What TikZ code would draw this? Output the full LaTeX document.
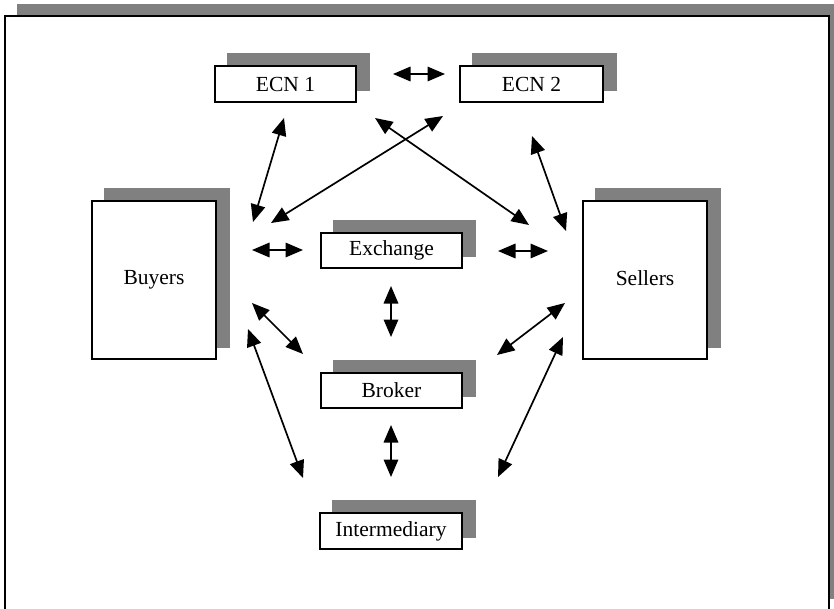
\documentclass[tikz,border=0pt]{standalone}
\usepackage{fontspec}
\setmainfont{Liberation Serif}
\usetikzlibrary{arrows.meta,backgrounds}
\definecolor{shadowgray}{RGB}{128,128,128}
\begin{document}
\begin{tikzpicture}[x=1pt,y=-1pt,
  box/.style={draw, line width=1.9pt, fill=white, inner sep=0pt,
              font=\fontsize{21.5}{26}\selectfont},
  link/.style={{Triangle[length=17.5pt,width=14.5pt]}-{Triangle[length=17.5pt,width=14.5pt]}, line width=1.7pt}]
\useasboundingbox (0,0) rectangle (834,608);
\begin{scope}[on background layer]
  \clip (0,0) rectangle (834,608);
  \fill[shadowgray] (17,4) rectangle (846,599);
  \draw[line width=2pt, fill=white] (5,16) rectangle (829,620);
\end{scope}

\node[box, minimum width=141pt, minimum height=36pt] (ecn1) at (285.5,84) {ECN 1};
\node[box, minimum width=143pt, minimum height=36pt] (ecn2) at (531.5,84) {ECN 2};
\node[box, minimum width=124pt, minimum height=158pt] (buyers) at (154,280) {\raisebox{4pt}{Buyers}};
\node[box, minimum width=124pt, minimum height=158pt] (sellers) at (645,280) {\raisebox{4pt}{Sellers}};
\node[box, minimum width=141pt, minimum height=35pt] (exchange) at (391.5,250.5) {Exchange};
\node[box, minimum width=141pt, minimum height=35pt] (broker) at (391.5,390.5) {Broker};
\node[box, minimum width=142pt, minimum height=36pt] (inter) at (391,531) {Intermediary};

\begin{scope}[on background layer]
  \foreach \n in {ecn1,ecn2,buyers,sellers,exchange,broker,inter}
    \fill[shadowgray] ([shift={(13,-12)}]\n.south west) rectangle ([shift={(13,-12)}]\n.north east);
\end{scope}

% arrow end points
\coordinate (e12a) at (393,74);   \coordinate (e12b) at (445,74);
\coordinate (be1a) at (253,222);  \coordinate (be1b) at (284,118);
\coordinate (be2a) at (271,223);  \coordinate (be2b) at (443,116);
\coordinate (e1sa) at (375,118);  \coordinate (e1sb) at (529,225);
\coordinate (e2sa) at (532,136);  \coordinate (e2sb) at (566,231);
\coordinate (bxa) at (252,250);   \coordinate (bxb) at (303,250);
\coordinate (xsa) at (498,251);   \coordinate (xsb) at (548,251);
\coordinate (xka) at (391,286);   \coordinate (xkb) at (391,337);
\coordinate (bka) at (252,303);   \coordinate (bkb) at (303,354);
\coordinate (ska) at (497,355);   \coordinate (skb) at (565,303);
\coordinate (kia) at (391,425);   \coordinate (kib) at (391,477);
\coordinate (bia) at (248,329);   \coordinate (bib) at (303,478);
\coordinate (sia) at (498,477);   \coordinate (sib) at (563,337);

\draw[link] (e12a) -- (e12b);
\draw[link] (be1a) -- (be1b);
\draw[link] (be2a) -- (be2b);
\draw[link] (e1sa) -- (e1sb);
\draw[link] (e2sa) -- (e2sb);
\draw[link] (bxa) -- (bxb);
\draw[link] (xsa) -- (xsb);
\draw[link] (xka) -- (xkb);
\draw[link] (bka) -- (bkb);
\draw[link] (ska) -- (skb);
\draw[link] (kia) -- (kib);
\draw[link] (bia) -- (bib);
\draw[link] (sia) -- (sib);
\end{tikzpicture}
\end{document}
